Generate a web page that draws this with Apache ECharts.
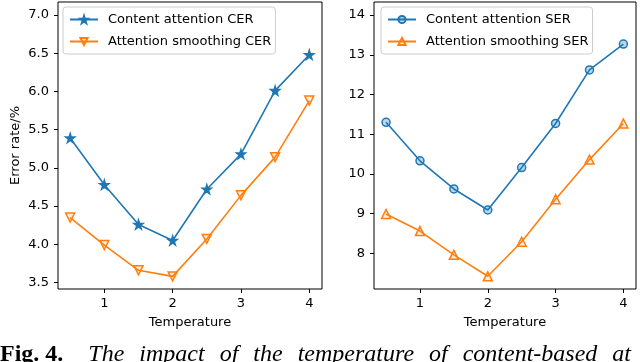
<!DOCTYPE html>
<html><head><meta charset="utf-8">
<script src="https://cdn.jsdelivr.net/npm/echarts@6/dist/echarts.min.js"></script>
<style>html,body{margin:0;padding:0;background:#fff}#c{width:640px;height:362px}</style>
</head><body><div id="c"></div>
<script>
const temperatures = [0.5, 1, 1.5, 2, 2.5, 3, 3.5, 4];
const contentCER = [5.39, 4.78, 4.26, 4.05, 4.72, 5.18, 6.01, 6.48];
const smoothingCER = [4.35, 3.99, 3.66, 3.58, 4.07, 4.64, 5.14, 5.88];
const contentSER = [11.30, 10.33, 9.62, 9.09, 10.16, 11.27, 12.62, 13.27];
const smoothingSER = [8.99, 8.56, 7.96, 7.42, 8.29, 9.36, 10.36, 11.27];
const xTicks = [1, 2, 3, 4];
const cerTicks = [3.5, 4.0, 4.5, 5.0, 5.5, 6.0, 6.5, 7.0];
const serTicks = [8, 9, 10, 11, 12, 13, 14];
const names = ['Content attention CER', 'Attention smoothing CER', 'Content attention SER', 'Attention smoothing SER'];
const captionWords = ['The', 'impact', 'of', 'the', 'temperature', 'of', 'content-based', 'at'];

const BLUE = '#1f77b4', ORANGE = '#ff7f0e';
const STAR = 'path://M50,0 L61,35 L98,35 L68,57 L79,91 L50,70 L21,91 L32,57 L2,35 L39,35 Z';
const TRI_DOWN = 'path://M0,0 L10,0 L5,9 Z';
const TRI_UP = 'path://M5,0 L10,9 L0,9 Z';
const zip = a => temperatures.map((t, i) => [t, a[i]]);
const font = 'DejaVu Sans';
const FS = 13;

function xAxis(idx) {
  return {
    type: 'value', gridIndex: idx, min: 0.322, max: 4.186,
    name: 'Temperature', nameLocation: 'middle', nameGap: 27,
    nameTextStyle: {fontFamily: font, fontSize: FS, color: '#000'},
    axisLine: {show: false}, splitLine: {show: false},
    axisTick: {show: true, length: 4, lineStyle: {color: '#000'}, customValues: xTicks},
    axisLabel: {fontFamily: font, fontSize: FS, color: '#000', margin: 8, customValues: xTicks}
  };
}
function yAxis(idx, min, max, ticks, fmt, name) {
  return {
    type: 'value', gridIndex: idx, min: min, max: max,
    name: name || '', nameLocation: 'middle', nameGap: 36,
    nameTextStyle: {fontFamily: font, fontSize: FS, color: '#000'},
    axisLine: {show: false}, splitLine: {show: false},
    axisTick: {show: true, length: 4, lineStyle: {color: '#000'}, customValues: ticks},
    axisLabel: {fontFamily: font, fontSize: FS, color: '#000', margin: 9, customValues: ticks, formatter: fmt}
  };
}
function legend(data, left) {
  return {
    data: data, left: left, top: 7, orient: 'vertical',
    itemWidth: 28, itemHeight: 9, itemGap: 9,
    padding: [6, 4, 6, 6], borderColor: '#ccc', borderWidth: 1, borderRadius: 3,
    backgroundColor: 'rgba(255,255,255,0.8)',
    textStyle: {fontFamily: font, fontSize: FS, color: '#000', padding: [0, 0, 0, 5]}
  };
}
function line(name, data, idx, color, symbol, fill, size) {
  return {
    name: name, type: 'line', xAxisIndex: idx, yAxisIndex: idx, data: data,
    symbol: symbol, symbolSize: size, showAllSymbol: true,
    lineStyle: {color: color, width: 1.6},
    itemStyle: {color: fill, borderColor: color, borderWidth: 1.5},
    emphasis: {disabled: true}, animation: false, z: 3
  };
}

const captionRich = '{b|Fig. 4.}{s|     }' + captionWords.map(w => '{i|' + w + '}').join('{s|   }');

const chart = echarts.init(document.getElementById('c'), null, {renderer: 'canvas'});
chart.setOption({
  animation: false,
  grid: [
    {left: 58, top: 2, width: 264, height: 287, show: true, borderColor: '#000', borderWidth: 1, backgroundColor: 'transparent'},
    {left: 374, top: 2, width: 262, height: 287, show: true, borderColor: '#000', borderWidth: 1, backgroundColor: 'transparent'}
  ],
  xAxis: [xAxis(0), xAxis(1)],
  yAxis: [
    yAxis(0, 3.415, 7.17, cerTicks, v => v.toFixed(1), 'Error rate/%'),
    yAxis(1, 7.1, 14.33, serTicks, v => String(v))
  ],
  legend: [legend([names[0], names[1]], 63), legend([names[2], names[3]], 381)],
  series: [
    line(names[0], zip(contentCER), 0, BLUE, STAR, BLUE, 9),
    line(names[1], zip(smoothingCER), 0, ORANGE, TRI_DOWN, 'rgba(255,127,14,0.15)', 9),
    line(names[2], zip(contentSER), 1, BLUE, 'circle', 'rgba(31,119,180,0.3)', 8),
    line(names[3], zip(smoothingSER), 1, ORANGE, TRI_UP, 'rgba(255,127,14,0.15)', 9)
  ],
  graphic: [{
    type: 'text', left: 0, top: 343,
    style: {
      text: captionRich,
      rich: {
        b: {fontFamily: 'Liberation Serif', fontWeight: 'bold', fontSize: 24, fill: '#000'},
        i: {fontFamily: 'Liberation Serif', fontStyle: 'italic', fontSize: 24, fill: '#000'},
        s: {fontFamily: 'Liberation Serif', fontSize: 20, fill: '#000'}
      }
    }
  }]
});
</script></body></html>
